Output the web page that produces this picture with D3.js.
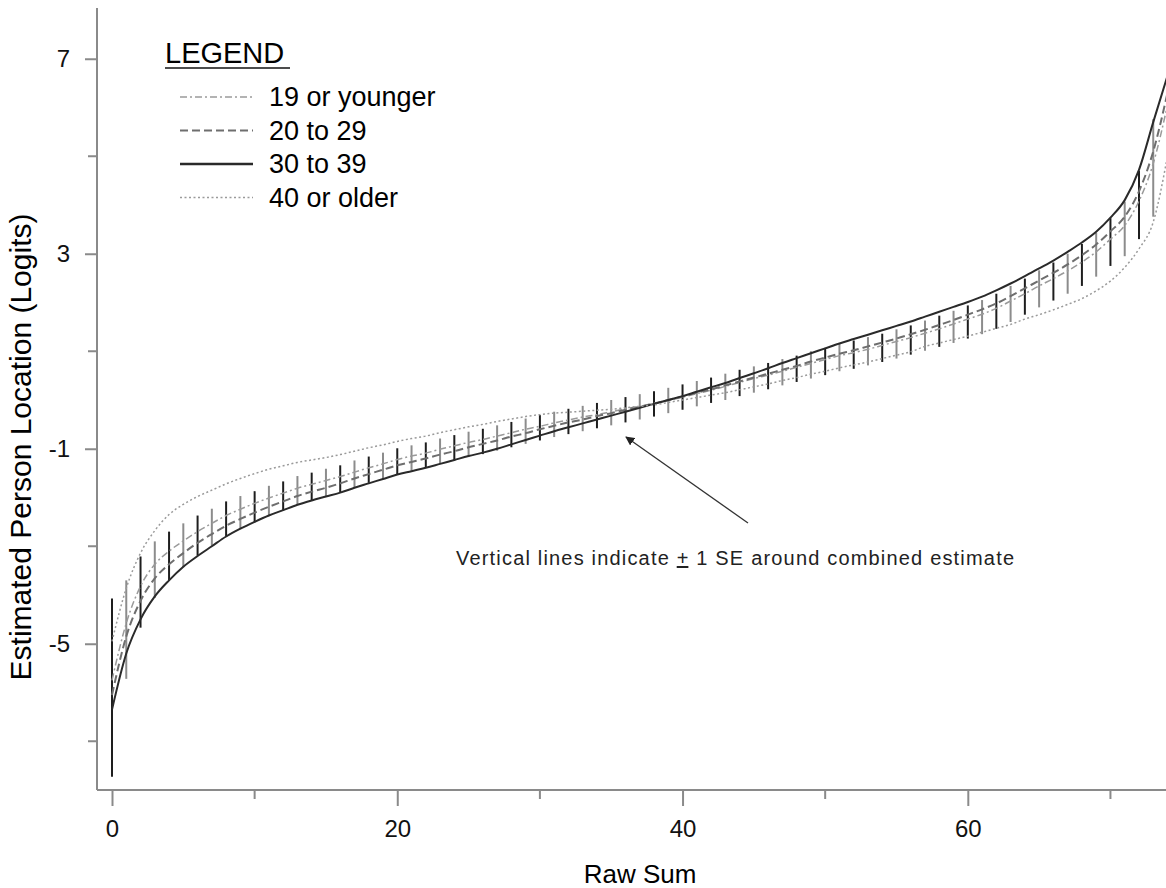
<!DOCTYPE html>
<html>
<head>
<meta charset="utf-8">
<script src="https://cdn.jsdelivr.net/npm/d3@7"></script>
<style>
  body { margin: 0; background: #fff; }
  svg { font-family: "Liberation Sans", Arial, sans-serif; display: block; }
  .axis path, .axis line { stroke: #8a8a8a; stroke-width: 2; }
  .axis text { font-size: 24px; fill: #111; }
</style>
</head>
<body>
<div class="display"></div>
<script>
// Person location by raw sum for four age groups, with +/- 1 SE bars

const WIDTH = 1166;
const HEIGHT = 888;

// raw sums 0..74
const rawSum = d3.range(0, 75);

// combined estimate and its SE
const combined = [-5.90, -4.71, -3.94, -3.48, -3.20, -2.98, -2.78, -2.61, -2.44, -2.31,
  -2.19, -2.07, -1.97, -1.86, -1.78, -1.70, -1.62, -1.52, -1.43, -1.35,
  -1.26, -1.19, -1.13, -1.05, -0.98, -0.91, -0.85, -0.78, -0.71, -0.64,
  -0.57, -0.50, -0.44, -0.38, -0.32, -0.26, -0.20, -0.14, -0.08, -0.01,
  0.06, 0.13, 0.20, 0.27, 0.35, 0.42, 0.49, 0.57, 0.64, 0.72,
  0.79, 0.87, 0.93, 1.00, 1.07, 1.15, 1.23, 1.32, 1.41, 1.50,
  1.60, 1.70, 1.82, 1.97, 2.12, 2.28, 2.43, 2.59, 2.77, 2.98,
  3.24, 3.51, 4.00, 4.76, 5.90];

const se = [1.83, 1.01, 0.73, 0.58, 0.50, 0.45, 0.41, 0.38, 0.36, 0.34,
  0.32, 0.31, 0.30, 0.30, 0.29, 0.29, 0.28, 0.28, 0.27, 0.27,
  0.27, 0.26, 0.26, 0.26, 0.26, 0.26, 0.26, 0.26, 0.26, 0.26,
  0.26, 0.26, 0.26, 0.26, 0.26, 0.26, 0.26, 0.26, 0.26, 0.26,
  0.26, 0.26, 0.26, 0.27, 0.27, 0.27, 0.27, 0.27, 0.27, 0.28,
  0.28, 0.28, 0.29, 0.29, 0.29, 0.30, 0.30, 0.31, 0.32, 0.33,
  0.34, 0.35, 0.36, 0.37, 0.37, 0.38, 0.39, 0.41, 0.43, 0.45,
  0.49, 0.56, 0.70, 1.00, 1.83];

const age19 = [-5.75, -4.58, -3.82, -3.37, -3.10, -2.89, -2.70, -2.53, -2.37, -2.24,
  -2.12, -2.01, -1.91, -1.81, -1.73, -1.65, -1.57, -1.48, -1.39, -1.31,
  -1.22, -1.15, -1.09, -1.01, -0.94, -0.87, -0.81, -0.74, -0.67, -0.60,
  -0.54, -0.47, -0.41, -0.35, -0.30, -0.24, -0.18, -0.13, -0.07, -0.01,
  0.06, 0.13, 0.20, 0.28, 0.36, 0.44, 0.51, 0.59, 0.67, 0.75,
  0.83, 0.91, 0.97, 1.04, 1.12, 1.20, 1.28, 1.37, 1.46, 1.56,
  1.66, 1.76, 1.88, 2.03, 2.18, 2.34, 2.49, 2.65, 2.83, 3.04,
  3.30, 3.58, 4.08, 4.85, 6.05];

const age20 = [-6.05, -4.85, -4.12, -3.66, -3.37, -3.14, -2.93, -2.75, -2.58, -2.44,
  -2.31, -2.19, -2.08, -1.97, -1.88, -1.80, -1.71, -1.61, -1.52, -1.43,
  -1.34, -1.27, -1.20, -1.12, -1.05, -0.97, -0.90, -0.83, -0.75, -0.68,
  -0.60, -0.53, -0.46, -0.40, -0.33, -0.27, -0.20, -0.14, -0.07, 0.00,
  0.07, 0.15, 0.22, 0.30, 0.38, 0.46, 0.54, 0.62, 0.70, 0.79,
  0.87, 0.95, 1.02, 1.10, 1.18, 1.26, 1.35, 1.44, 1.54, 1.64,
  1.75, 1.86, 1.98, 2.13, 2.29, 2.45, 2.61, 2.78, 2.97, 3.19,
  3.46, 3.76, 4.28, 5.10, 6.30];

const age30 = [-6.35, -5.20, -4.50, -4.03, -3.70, -3.42, -3.20, -3.00, -2.80, -2.64,
  -2.50, -2.37, -2.26, -2.15, -2.06, -1.98, -1.90, -1.80, -1.71, -1.62,
  -1.53, -1.46, -1.39, -1.31, -1.23, -1.15, -1.08, -1.00, -0.91, -0.82,
  -0.73, -0.64, -0.56, -0.48, -0.40, -0.32, -0.24, -0.16, -0.08, 0.00,
  0.08, 0.17, 0.26, 0.35, 0.45, 0.55, 0.65, 0.76, 0.86, 0.96,
  1.06, 1.16, 1.25, 1.34, 1.43, 1.52, 1.61, 1.71, 1.81, 1.91,
  2.01, 2.12, 2.25, 2.39, 2.54, 2.70, 2.86, 3.04, 3.23, 3.45,
  3.74, 4.10, 4.72, 5.70, 6.65];

const age40 = [-4.95, -3.86, -3.14, -2.68, -2.35, -2.14, -1.98, -1.85, -1.72, -1.61,
  -1.51, -1.42, -1.35, -1.28, -1.23, -1.18, -1.12, -1.05, -0.98, -0.92,
  -0.85, -0.79, -0.74, -0.67, -0.61, -0.55, -0.50, -0.44, -0.39, -0.34,
  -0.30, -0.27, -0.25, -0.23, -0.21, -0.19, -0.16, -0.13, -0.10, -0.05,
  0.00, 0.05, 0.10, 0.15, 0.21, 0.27, 0.33, 0.40, 0.46, 0.53,
  0.59, 0.66, 0.72, 0.78, 0.85, 0.92, 0.99, 1.10, 1.17, 1.24,
  1.31, 1.39, 1.47, 1.55, 1.66, 1.75, 1.85, 1.96, 2.08, 2.24,
  2.44, 2.72, 3.10, 3.65, 5.00];

const groupNames = ['19 or younger', '20 to 29', '30 to 39', '40 or older'];
const groupValues = [age19, age20, age30, age40];

const xTicks = [0, 20, 40, 60];
const xMinorTicks = [10, 30, 50, 70];
const yTicks = [7, 3, -1, -5];
const yMinorTicks = [5, 1, -3, -7];

// line styles per group (legend order)
const styles = [
  { color: '#9a9a9a', width: 1.5, dash: '7,3,2,3' },
  { color: '#6e6e6e', width: 2, dash: '8,4' },
  { color: '#2a2a2a', width: 2, dash: null },
  { color: '#9a9a9a', width: 1.5, dash: '2,2.5' }
];

const svg = d3.select('.display')
  .append('svg')
  .attr('width', WIDTH)
  .attr('height', HEIGHT);

const x = d3.scaleLinear().domain([0, 74]).range([112, 1167.5]);
const y = d3.scaleLinear().domain([-8, 8]).range([790, 10]);

// axes
const xAxis = svg.append('g')
  .attr('class', 'axis')
  .attr('transform', 'translate(0,790)');
xAxis.append('line').attr('x1', 97).attr('x2', WIDTH).attr('y1', 0).attr('y2', 0);
xAxis.call(d3.axisBottom(x).tickValues(xTicks).tickSize(16).tickPadding(14).tickSizeOuter(0))
  .call(g => g.select('.domain').remove());
xAxis.selectAll('.minor')
  .data(xMinorTicks)
  .enter()
  .append('line')
  .attr('class', 'minor')
  .attr('x1', d => x(d)).attr('x2', d => x(d))
  .attr('y1', 0).attr('y2', 9);

const yAxis = svg.append('g')
  .attr('class', 'axis')
  .attr('transform', 'translate(97,0)');
yAxis.append('line').attr('x1', 0).attr('x2', 0).attr('y1', 8).attr('y2', 790);
yAxis.call(d3.axisLeft(y).tickValues(yTicks).tickFormat(d => String(d))
    .tickSize(12).tickPadding(15).tickSizeOuter(0))
  .call(g => g.select('.domain').remove());
yAxis.selectAll('.minor')
  .data(yMinorTicks)
  .enter()
  .append('line')
  .attr('class', 'minor')
  .attr('x1', -9).attr('x2', 0)
  .attr('y1', d => y(d)).attr('y2', d => y(d));

// axis titles
svg.append('text')
  .attr('x', 640)
  .attr('y', 883)
  .attr('text-anchor', 'middle')
  .style('font-size', '26px')
  .text('Raw Sum');

svg.append('text')
  .attr('transform', 'translate(31,447) rotate(-90)')
  .attr('text-anchor', 'middle')
  .style('font-size', '30px')
  .text('Estimated Person Location (Logits)');

// SE bars around combined estimate
svg.append('g')
  .selectAll('line')
  .data(rawSum)
  .enter()
  .append('line')
  .attr('x1', d => x(d)).attr('x2', d => x(d))
  .attr('y1', d => y(combined[d] - se[d]))
  .attr('y2', d => y(combined[d] + se[d]))
  .attr('stroke', d => d % 2 == 0 ? '#1e1e1e' : '#8c8c8c')
  .attr('stroke-width', 2);

// group curves
const line = d3.line()
  .x((d, i) => x(rawSum[i]))
  .y(d => y(d))
  .curve(d3.curveMonotoneX);

svg.append('g')
  .selectAll('path')
  .data(groupValues)
  .enter()
  .append('path')
  .attr('d', line)
  .attr('fill', 'none')
  .attr('stroke', (d, i) => styles[i].color)
  .attr('stroke-width', (d, i) => styles[i].width)
  .attr('stroke-dasharray', (d, i) => styles[i].dash);

// legend
const legend = svg.append('g');
legend.append('text')
  .attr('x', 165).attr('y', 63)
  .style('font-size', '29px')
  .text('LEGEND');
legend.append('line')
  .attr('x1', 165).attr('x2', 290)
  .attr('y1', 68).attr('y2', 68)
  .attr('stroke', '#111').attr('stroke-width', 1.5);

const item = legend.selectAll('.item')
  .data(groupNames)
  .enter()
  .append('g')
  .attr('class', 'item')
  .attr('transform', (d, i) => `translate(0,${97 + i * 33.5})`);
item.append('line')
  .attr('x1', 180).attr('x2', 253)
  .attr('stroke', (d, i) => styles[i].color)
  .attr('stroke-width', (d, i) => i == 2 ? 2.5 : styles[i].width)
  .attr('stroke-dasharray', (d, i) => styles[i].dash);
item.append('text')
  .attr('x', 269).attr('y', 9)
  .style('font-size', '27px')
  .text(d => d);

// annotation with arrow
svg.append('defs').append('marker')
  .attr('id', 'arrow')
  .attr('viewBox', '0 0 10 10')
  .attr('refX', 9).attr('refY', 5)
  .attr('markerWidth', 7).attr('markerHeight', 7)
  .attr('orient', 'auto')
  .append('path')
  .attr('d', 'M0,0 L10,5 L0,10 z')
  .attr('fill', '#222');

svg.append('line')
  .attr('x1', 748).attr('y1', 523)
  .attr('x2', 626).attr('y2', 437)
  .attr('stroke', '#333').attr('stroke-width', 1.3)
  .attr('marker-end', 'url(#arrow)');

const note = svg.append('text')
  .attr('x', 456).attr('y', 565)
  .attr('textLength', 558)
  .style('font-size', '20px')
  .attr('fill', '#222');
note.append('tspan').text('Vertical lines indicate ');
note.append('tspan').style('text-decoration', 'underline').text('+');
note.append('tspan').text(' 1 SE around combined estimate');
</script>
</body>
</html>
